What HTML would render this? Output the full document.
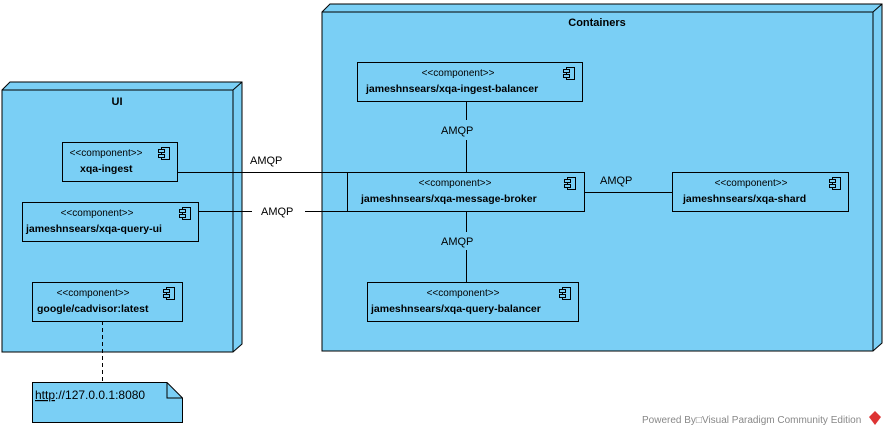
<!DOCTYPE html>
<html><head><meta charset="utf-8"><style>
body{margin:0;background:#fff;}
svg text{font-family:"Liberation Sans",sans-serif;fill:#000;}
</style></head><body>
<svg width="886" height="436" xmlns="http://www.w3.org/2000/svg">
<!-- UI node -->
<polygon points="2,90 10,82 242,82 242,344 233,352 2,352" fill="#7acff5" stroke="#000"/>
<polyline points="2,90 233,90 242,82" fill="none" stroke="#000"/>
<line x1="233" y1="90" x2="233" y2="352" stroke="#000"/>
<text x="117" y="105" font-size="11" font-weight="bold" text-anchor="middle">UI</text>
<!-- Containers node -->
<polygon points="322,12 330,4 882,4 882,343 873,351 322,351" fill="#7acff5" stroke="#000"/>
<polyline points="322,12 873,12 882,4" fill="none" stroke="#000"/>
<line x1="873" y1="12" x2="873" y2="351" stroke="#000"/>
<text x="597" y="26" font-size="11" font-weight="bold" text-anchor="middle">Containers</text>

<!-- connectors -->
<g stroke="#000" fill="none">
<line x1="177" y1="172.5" x2="347" y2="172.5"/>
<line x1="198" y1="211.5" x2="252" y2="211.5"/>
<line x1="305" y1="211.5" x2="347" y2="211.5"/>
<line x1="466.5" y1="102" x2="466.5" y2="120"/>
<line x1="466.5" y1="140" x2="466.5" y2="172"/>
<line x1="466.5" y1="211" x2="466.5" y2="232"/>
<line x1="466.5" y1="250" x2="466.5" y2="282"/>
<line x1="584" y1="192.5" x2="672" y2="192.5"/>
<line x1="102.5" y1="321" x2="102.5" y2="382" stroke-dasharray="4,3"/>
</g>
<g font-size="11">
<text x="250" y="164">AMQP</text>
<text x="261" y="215">AMQP</text>
<text x="441" y="134">AMQP</text>
<text x="441" y="245">AMQP</text>
<text x="600" y="184">AMQP</text>
</g>

<!-- components -->
<defs>
<g id="ic" fill="#7acff5" stroke="#000" stroke-width="1">
<rect x="0" y="0" width="8" height="12"/>
<rect x="-3" y="2" width="6" height="3"/>
<rect x="-3" y="7" width="6" height="3"/>
</g>
</defs>
<g fill="#7acff5" stroke="#000">
<rect x="62.5" y="142.5" width="115" height="39"/>
<rect x="22.5" y="202.5" width="176" height="39"/>
<rect x="32.5" y="282.5" width="150" height="39"/>
<rect x="357.5" y="62.5" width="225" height="39"/>
<rect x="347.5" y="172.5" width="237" height="39"/>
<rect x="672.5" y="172.5" width="176" height="39"/>
<rect x="367.5" y="282.5" width="211" height="39"/>
</g>
<use href="#ic" x="161.5" y="147.5"/>
<use href="#ic" x="182.5" y="207.5"/>
<use href="#ic" x="166.5" y="287.5"/>
<use href="#ic" x="566.5" y="67.5"/>
<use href="#ic" x="567.5" y="177.5"/>
<use href="#ic" x="832.5" y="177.5"/>
<use href="#ic" x="562.5" y="287.5"/>
<g font-size="10">
<text x="106" y="156" text-anchor="middle">&lt;&lt;component&gt;&gt;</text>
<text x="97" y="216" text-anchor="middle">&lt;&lt;component&gt;&gt;</text>
<text x="93" y="296" text-anchor="middle">&lt;&lt;component&gt;&gt;</text>
<text x="458" y="76" text-anchor="middle">&lt;&lt;component&gt;&gt;</text>
<text x="455" y="186" text-anchor="middle">&lt;&lt;component&gt;&gt;</text>
<text x="751" y="186" text-anchor="middle">&lt;&lt;component&gt;&gt;</text>
<text x="463" y="296" text-anchor="middle">&lt;&lt;component&gt;&gt;</text>
</g>
<g font-size="10.5" font-weight="bold">
<text x="80" y="172">xqa-ingest</text>
<text x="26" y="232">jameshnsears/xqa-query-ui</text>
<text x="37" y="312">google/cadvisor:latest</text>
<text x="366" y="92">jameshnsears/xqa-ingest-balancer</text>
<text x="361" y="202">jameshnsears/xqa-message-broker</text>
<text x="683" y="202">jameshnsears/xqa-shard</text>
<text x="371" y="312">jameshnsears/xqa-query-balancer</text>
</g>

<!-- note -->
<polygon points="32.5,382.5 167,382.5 182.5,398 182.5,422.5 32.5,422.5" fill="#7acff5" stroke="#000"/>
<polyline points="167,382.5 167,398 182.5,398" fill="none" stroke="#000"/>
<text x="35" y="399" font-size="12"><tspan text-decoration="underline">http</tspan>://127.0.0.1:8080</text>

<text x="642" y="423" font-size="10" fill="#888" style="fill:#888">Powered By□Visual Paradigm Community Edition</text>
<polygon points="875,411 881,417 875,425 869,417" fill="#d33"/>
</svg>
</body></html>
